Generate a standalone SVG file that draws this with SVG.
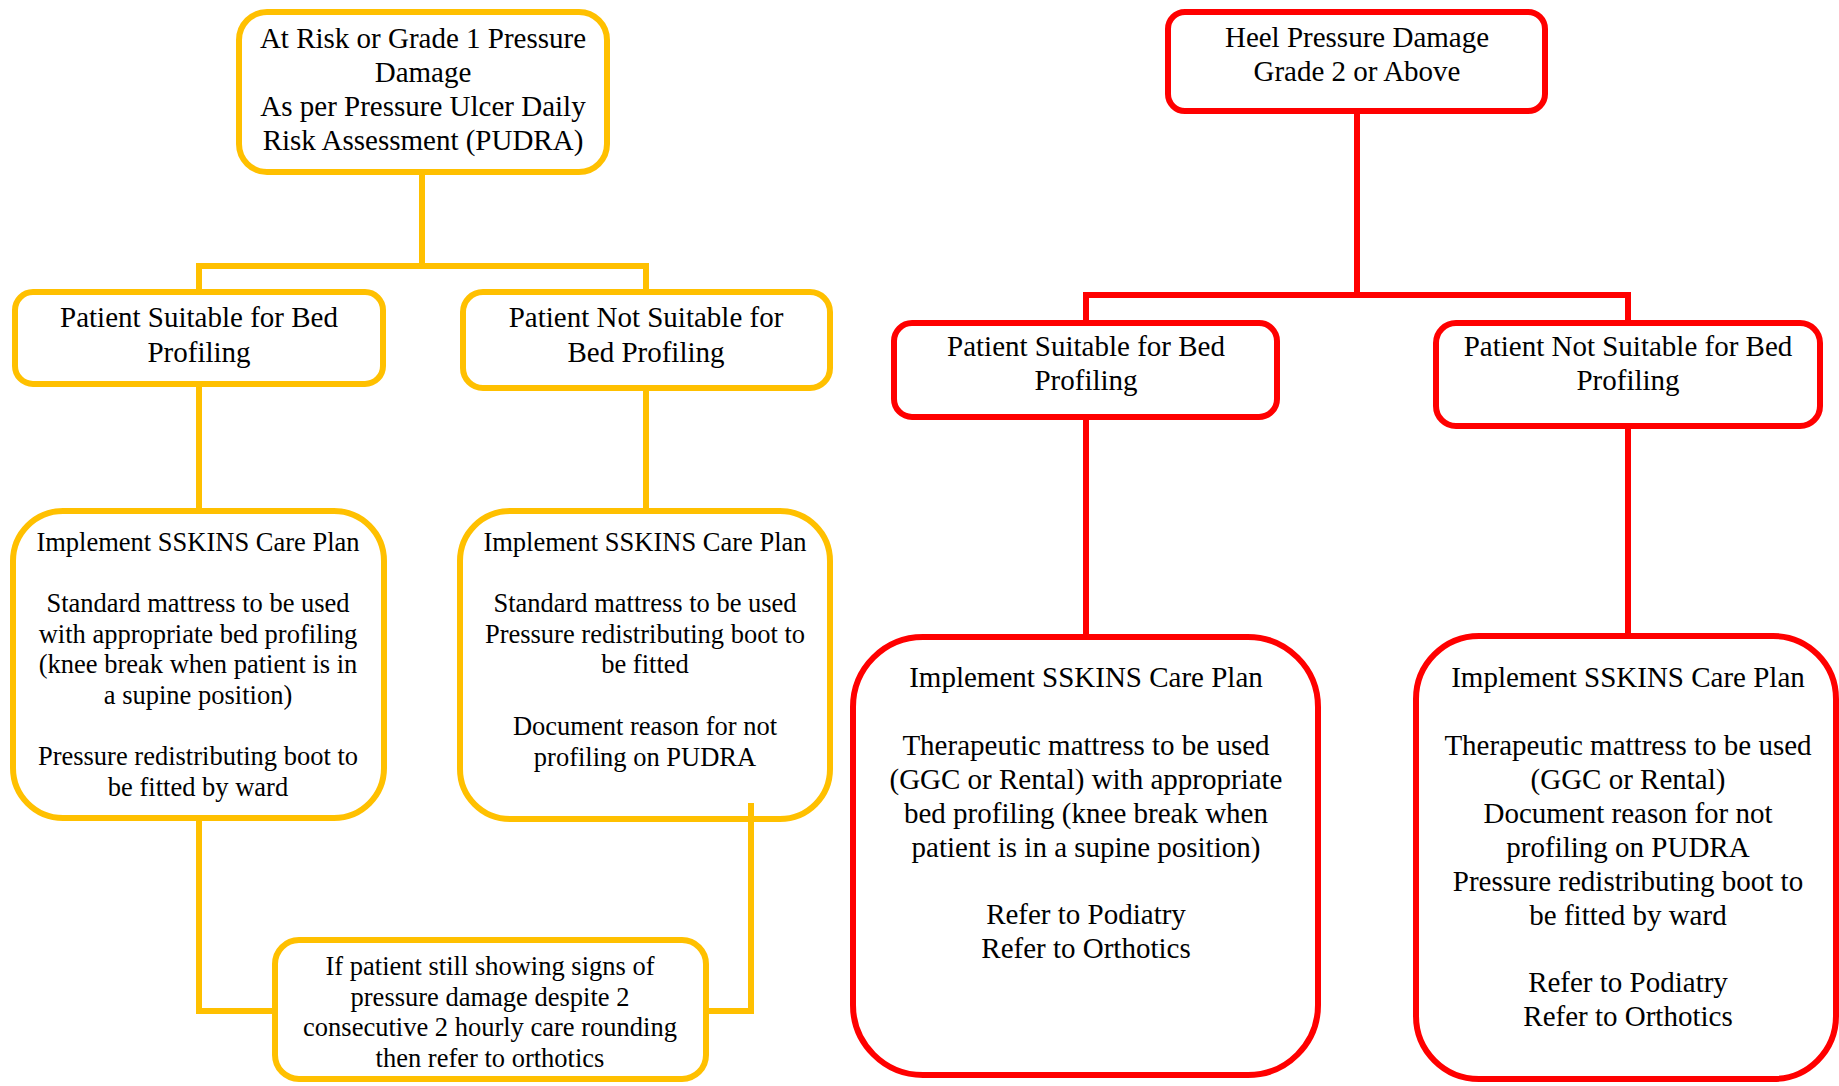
<svg xmlns="http://www.w3.org/2000/svg" width="1839" height="1086" viewBox="0 0 1839 1086">
<style>
.y{fill:#fff;stroke:#FFC000;stroke-width:6}
.r{fill:#fff;stroke:#FF0000;stroke-width:6}
.cy{fill:none;stroke:#FFC000;stroke-width:6}
.cr{fill:none;stroke:#FF0000;stroke-width:6}
text{font-family:"Liberation Serif","Times New Roman",serif;fill:#000;text-anchor:middle}
.b{font-size:29px}
.s{font-size:26.5px}
</style>
<rect width="1839" height="1086" fill="#fff"/>
<g id="n_top_yellow">
<rect class="y" x="239" y="12" width="368" height="160" rx="28"/>
<text class="b" x="423"><tspan x="423" y="48">At Risk or Grade 1 Pressure</tspan><tspan x="423" y="82">Damage</tspan><tspan x="423" y="116">As per Pressure Ulcer Daily</tspan><tspan x="423" y="150">Risk Assessment (PUDRA)</tspan></text>
</g>
<g id="n_y_suitable">
<rect class="y" x="15" y="292" width="368" height="92" rx="18"/>
<text class="b"><tspan x="199" y="327">Patient Suitable for Bed</tspan><tspan x="199" y="362">Profiling</tspan></text>
</g>
<g id="n_y_not_suitable">
<rect class="y" x="463" y="292" width="367" height="96" rx="20"/>
<text class="b"><tspan x="646" y="327">Patient Not Suitable for</tspan><tspan x="646" y="362">Bed Profiling</tspan></text>
</g>
<g id="n_y_plan_suitable">
<rect class="y" x="13" y="511" width="371" height="307" rx="50"/>
<text class="s"><tspan x="198" y="551">Implement SSKINS Care Plan</tspan><tspan x="198" y="612">Standard mattress to be used</tspan><tspan x="198" y="643">with appropriate bed profiling</tspan><tspan x="198" y="673">(knee break when patient is in</tspan><tspan x="198" y="704">a supine position)</tspan><tspan x="198" y="765">Pressure redistributing boot to</tspan><tspan x="198" y="796">be fitted by ward</tspan></text>
</g>
<g id="n_y_plan_not_suitable">
<rect class="y" x="460" y="511" width="370" height="308" rx="50"/>
<text class="s"><tspan x="645" y="551">Implement SSKINS Care Plan</tspan><tspan x="645" y="612">Standard mattress to be used</tspan><tspan x="645" y="643">Pressure redistributing boot to</tspan><tspan x="645" y="673">be fitted</tspan><tspan x="645" y="735">Document reason for not</tspan><tspan x="645" y="766">profiling on PUDRA</tspan></text>
</g>
<g id="n_y_orthotics">
<rect class="y" x="275" y="940" width="431" height="139" rx="24"/>
<text class="s"><tspan x="490" y="975">If patient still showing signs of</tspan><tspan x="490" y="1006">pressure damage despite 2</tspan><tspan x="490" y="1036">consecutive 2 hourly care rounding</tspan><tspan x="490" y="1067">then refer to orthotics</tspan></text>
</g>
<g id="n_top_red">
<rect class="r" x="1168" y="12" width="377" height="99" rx="17"/>
<text class="b"><tspan x="1357" y="47">Heel Pressure Damage</tspan><tspan x="1357" y="81">Grade 2 or Above</tspan></text>
</g>
<g id="n_r_suitable">
<rect class="r" x="894" y="323" width="383" height="94" rx="18"/>
<text class="b"><tspan x="1086" y="356">Patient Suitable for Bed</tspan><tspan x="1086" y="390">Profiling</tspan></text>
</g>
<g id="n_r_not_suitable">
<rect class="r" x="1436" y="323" width="384" height="103" rx="20"/>
<text class="b"><tspan x="1628" y="356">Patient Not Suitable for Bed</tspan><tspan x="1628" y="390">Profiling</tspan></text>
</g>
<g id="n_r_plan_suitable">
<rect class="r" x="853" y="637" width="465" height="438" rx="70"/>
<text class="b"><tspan x="1086" y="687">Implement SSKINS Care Plan</tspan><tspan x="1086" y="755">Therapeutic mattress to be used</tspan><tspan x="1086" y="789">(GGC or Rental) with appropriate</tspan><tspan x="1086" y="823">bed profiling (knee break when</tspan><tspan x="1086" y="857">patient is in a supine position)</tspan><tspan x="1086" y="924">Refer to Podiatry</tspan><tspan x="1086" y="958">Refer to Orthotics</tspan></text>
</g>
<g id="n_r_plan_not_suitable">
<rect class="r" x="1416" y="636" width="420" height="443" rx="63"/>
<text class="b"><tspan x="1628" y="687">Implement SSKINS Care Plan</tspan><tspan x="1628" y="755">Therapeutic mattress to be used</tspan><tspan x="1628" y="789">(GGC or Rental)</tspan><tspan x="1628" y="823">Document reason for not</tspan><tspan x="1628" y="857">profiling on PUDRA</tspan><tspan x="1628" y="891">Pressure redistributing boot to</tspan><tspan x="1628" y="925">be fitted by ward</tspan><tspan x="1628" y="992">Refer to Podiatry</tspan><tspan x="1628" y="1026">Refer to Orthotics</tspan></text>
</g>
<g id="connectors">
<path class="cy" d="M422,175 V266 M199,289 V266 H646 V289"/>
<path class="cy" d="M199,387 V508 M646,391 V508"/>
<path class="cy" d="M199,821 V1011 H272"/>
<path class="cy" d="M751,803 V1011 H709"/>
<path class="cr" d="M1357,114 V295 M1086,320 V295 H1628 V320"/>
<path class="cr" d="M1086,420 V634 M1628,429 V633"/>
</g>
</svg>
